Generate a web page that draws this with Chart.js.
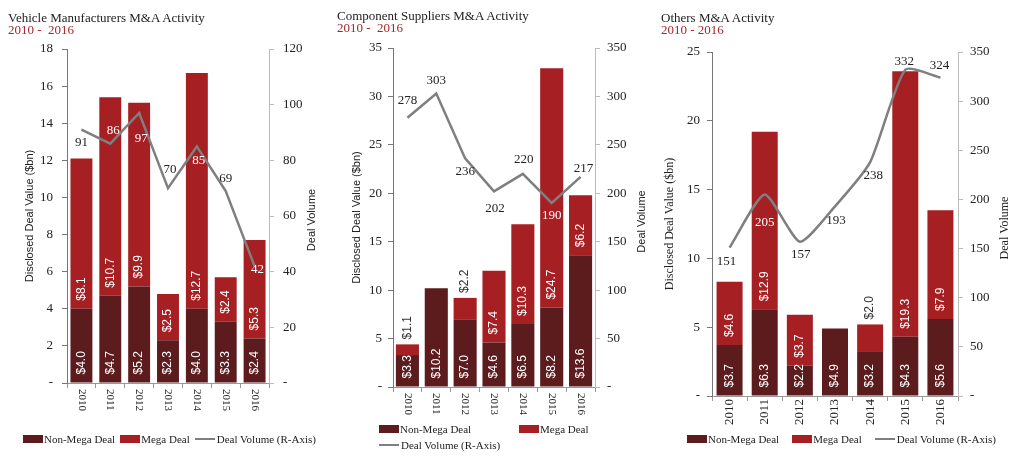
<!DOCTYPE html>
<html>
<head>
<meta charset="utf-8">
<script src="https://cdn.jsdelivr.net/npm/chart.js@4.4.0/dist/chart.umd.min.js"></script>
<style>
  body { margin: 0; background: #fff; width: 1024px; height: 461px; overflow: hidden; position: relative; font-family: "Liberation Serif", serif; }
  .panel { position: absolute; top: 0; height: 461px; }
  .panel canvas { position: absolute; left: 0; top: 0; }
  .ttl, .sub { position: absolute; font-size: 13px; line-height: 13px; white-space: pre; }
  .ttl { color: #222; }
  .sub { color: #a3262b; }
  .legend { position: absolute; font-size: 11px; color: #222; display: flex; align-items: center; white-space: pre; }
  .legend .item { display: flex; align-items: center; }
  .legend .box { width: 20px; height: 8px; margin-right: 1px; }
  .legend .ln { width: 20px; height: 2px; margin-right: 2px; }
  .legend.grid { display: grid; grid-template-columns: 140px 140px; row-gap: 4px; }
</style>
</head>
<body>

<div class="panel" id="p1" style="left:0;width:330px">
  <canvas id="c1" width="330" height="461"></canvas>
  <div class="ttl" style="left:8px;top:11px">Vehicle Manufacturers M&amp;A Activity</div>
  <div class="sub" style="left:8px;top:23px">2010 -  2016</div>
  <div class="legend" id="l1" style="left:23px;top:433px;gap:5px"></div>
</div>

<div class="panel" id="p2" style="left:330px;width:325px">
  <canvas id="c2" width="325" height="461"></canvas>
  <div class="ttl" style="left:7px;top:9px">Component Suppliers M&amp;A Activity</div>
  <div class="sub" style="left:7px;top:21px">2010 -  2016</div>
  <div class="legend grid" id="l2" style="left:49px;top:423px"></div>
</div>

<div class="panel" id="p3" style="left:655px;width:369px">
  <canvas id="c3" width="369" height="461"></canvas>
  <div class="ttl" style="left:6px;top:11px">Others M&amp;A Activity</div>
  <div class="sub" style="left:6px;top:23px">2010 - 2016</div>
  <div class="legend" id="l3" style="left:32px;top:433px;gap:13px"></div>
</div>

<script>
// Data
const years = ['2010', '2011', '2012', '2013', '2014', '2015', '2016'];

const vehicleNonMega = [4.0, 4.7, 5.2, 2.3, 4.0, 3.3, 2.4];
const vehicleMega = [8.1, 10.7, 9.9, 2.5, 12.7, 2.4, 5.3];
const vehicleVolume = [91, 86, 97, 70, 85, 69, 42];
const vehicleValueTicks = [0, 2, 4, 6, 8, 10, 12, 14, 16, 18];
const vehicleVolumeTicks = [0, 20, 40, 60, 80, 100, 120];

const componentNonMega = [3.3, 10.2, 7.0, 4.6, 6.5, 8.2, 13.6];
const componentMega = [1.1, 0, 2.2, 7.4, 10.3, 24.7, 6.2];
const componentVolume = [278, 303, 236, 202, 220, 190, 217];
const componentValueTicks = [0, 5, 10, 15, 20, 25, 30, 35];
const componentVolumeTicks = [0, 50, 100, 150, 200, 250, 300, 350];

const othersNonMega = [3.7, 6.3, 2.2, 4.9, 3.2, 4.3, 5.6];
const othersMega = [4.6, 12.9, 3.7, 0, 2.0, 19.3, 7.9];
const othersVolume = [151, 205, 157, 193, 238, 332, 324];
const othersValueTicks = [0, 5, 10, 15, 20, 25];
const othersVolumeTicks = [0, 50, 100, 150, 200, 250, 300, 350];

// label placement (pixel shift from the line point) and colour flags
const vehicleVolumeShift = [[0, 13], [3, -13], [2, 26], [2, -19], [2, 14], [0, -12], [3, 3]];
const vehicleVolumeWhite = [false, true, true, false, true, false, true];
const vehicleMegaOutside = [false, false, false, false, false, false, false];

const componentVolumeShift = [[0, -17], [0, -13], [0, 13], [1, 17], [1, -14], [0, 13], [3, -8]];
const componentVolumeWhite = [false, false, false, false, false, true, false];
const componentMegaOutside = [true, false, true, false, false, false, false];

const othersVolumeShift = [[-3, 14], [0, 28], [1, 13], [1, 14], [3, 13], [-1, -8], [-1, -12]];
const othersVolumeWhite = [false, true, false, false, false, false, false];
const othersMegaOutside = [false, false, false, false, true, false, false];

// Colours
const DARK = '#5c1c1e';
const RED = '#a51f23';
const GRAY = '#7f7f7f';
const SERIF = '"Liberation Serif", "Times New Roman", serif';
const SANS = '"Liberation Sans", Arial, sans-serif';

// Draws the $ labels inside the bars and the deal volume numbers
const dealLabels = {
    id: 'dealLabels',
    afterDatasetsDraw(chart) {
        const cfg = chart.options.plugins.dealLabels;
        const ctx = chart.ctx;

        [0, 1].forEach(di => {
            const values = chart.data.datasets[di].data;
            chart.getDatasetMeta(di).data.forEach((bar, i) => {
                const v = values[i];
                if (!v) return;
                const outside = di === 1 && cfg.outside[i];
                ctx.save();
                ctx.font = '12px ' + SANS;
                ctx.fillStyle = outside ? '#333' : '#fff';
                ctx.textAlign = 'left';
                ctx.textBaseline = 'middle';
                ctx.translate(bar.x, outside ? bar.y - 5 : bar.base - 8);
                ctx.rotate(-Math.PI / 2);
                ctx.fillText('$' + v.toFixed(1), 0, 0);
                ctx.restore();
            });
        });

        const volume = chart.data.datasets[2].data;
        ctx.save();
        ctx.font = '13px ' + SERIF;
        ctx.textAlign = 'center';
        ctx.textBaseline = 'middle';
        chart.getDatasetMeta(2).data.forEach((pt, i) => {
            const [dx, dy] = cfg.shift[i];
            ctx.fillStyle = cfg.white[i] ? '#fff' : '#222';
            ctx.fillText(String(volume[i]), pt.x + dx, pt.y + dy);
        });
        ctx.restore();
    }
};

// Year labels rotated as in each original, plus the right axis title (reads upward)
const axisText = {
    id: 'axisText',
    afterDraw(chart) {
        const cfg = chart.options.plugins.axisText;
        const xs = chart.scales.x;
        const ctx = chart.ctx;
        ctx.save();
        ctx.font = cfg.size + 'px ' + SERIF;
        ctx.fillStyle = '#222';
        ctx.textBaseline = 'middle';
        chart.data.labels.forEach((lab, i) => {
            ctx.save();
            ctx.translate(xs.getPixelForTick(i), xs.top + cfg.gap);
            if (cfg.dir > 0) {
                ctx.rotate(Math.PI / 2);
                ctx.textAlign = 'left';
            } else {
                ctx.rotate(-Math.PI / 2);
                ctx.textAlign = 'right';
            }
            ctx.fillText(lab, 0, 0);
            ctx.restore();
        });

        const area = chart.chartArea;
        ctx.font = cfg.titleSize + 'px ' + cfg.titleFont;
        ctx.textAlign = 'center';
        ctx.translate(chart.width - cfg.rightTitleX, (area.top + area.bottom) / 2 + 4);
        ctx.rotate(-Math.PI / 2);
        ctx.fillText('Deal Volume', 0, 0);
        ctx.restore();
    }
};

function buildChart(id, legendId, d) {
    const chart = new Chart(document.getElementById(id), {
        data: {
            labels: years,
            datasets: [
                { type: 'bar', label: 'Non-Mega Deal', data: d.nonMega, backgroundColor: DARK,
                  yAxisID: 'y', order: 1, barPercentage: d.barPct, categoryPercentage: 1 },
                { type: 'bar', label: 'Mega Deal', data: d.mega, backgroundColor: RED,
                  yAxisID: 'y', order: 1, barPercentage: d.barPct, categoryPercentage: 1 },
                { type: 'line', label: 'Deal Volume (R-Axis)', data: d.volume, borderColor: GRAY,
                  backgroundColor: GRAY, borderWidth: 2.5, pointRadius: 0, tension: d.tension,
                  yAxisID: 'y1', order: 0 }
            ]
        },
        options: {
            responsive: false,
            animation: false,
            layout: { padding: { top: d.top, bottom: d.bottom, left: 0, right: 0 } },
            plugins: {
                legend: { display: false },
                tooltip: { enabled: false },
                dealLabels: { shift: d.shift, white: d.white, outside: d.outside },
                axisText: { dir: d.yearDir, gap: d.yearGap, size: d.yearSize,
                            titleFont: d.titleFont, titleSize: d.titleSize, rightTitleX: d.rightTitleX }
            },
            scales: {
                x: {
                    stacked: true,
                    grid: { drawOnChartArea: false, tickLength: 5, color: '#999', offset: true },
                    border: { color: '#999' },
                    ticks: { display: false },
                    afterFit: s => { s.height = 30; }
                },
                y: {
                    stacked: true,
                    position: 'left',
                    min: d.valueTicks[0],
                    max: d.valueTicks[d.valueTicks.length - 1],
                    afterBuildTicks: s => { s.ticks = d.valueTicks.map(v => ({ value: v })); },
                    ticks: { callback: v => v === 0 ? '-' : v, font: { family: SERIF, size: 13 },
                             color: '#222', padding: d.leftPad },
                    grid: { drawOnChartArea: false, tickLength: 5, color: '#777' },
                    border: { color: '#777' },
                    title: { display: true, text: 'Disclosed Deal Value ($bn)', color: '#222',
                             font: { family: d.titleFont, size: d.titleSize },
                             padding: { top: d.leftTitlePad, bottom: 0 } },
                    afterFit: s => { s.width = d.leftW; }
                },
                y1: {
                    position: 'right',
                    min: d.volumeTicks[0],
                    max: d.volumeTicks[d.volumeTicks.length - 1],
                    afterBuildTicks: s => { s.ticks = d.volumeTicks.map(v => ({ value: v })); },
                    ticks: { callback: v => v === 0 ? '-' : v, font: { family: SERIF, size: 13 },
                             color: '#222', padding: d.rightPad },
                    grid: { drawOnChartArea: false, tickLength: 5, color: '#bbb' },
                    border: { color: '#bbb' },
                    afterFit: s => { s.width = d.rightW; }
                }
            }
        },
        plugins: [dealLabels, axisText]
    });

    // legend from the chart's own datasets
    const legend = document.getElementById(legendId);
    legend.innerHTML = chart.data.datasets.map(ds => {
        const sw = ds.type === 'line'
            ? `<span class="ln" style="background:${ds.borderColor}"></span>`
            : `<span class="box" style="background:${ds.backgroundColor}"></span>`;
        return `<span class="item">${sw}${ds.label}</span>`;
    }).join('');
    return chart;
}

buildChart('c1', 'l1', {
    nonMega: vehicleNonMega, mega: vehicleMega, volume: vehicleVolume,
    valueTicks: vehicleValueTicks, volumeTicks: vehicleVolumeTicks,
    shift: vehicleVolumeShift, white: vehicleVolumeWhite, outside: vehicleMegaOutside,
    barPct: 0.76, tension: 0, top: 49, bottom: 48,
    leftW: 67, rightW: 61, leftPad: 9, rightPad: 9,
    leftTitlePad: 23, rightTitleX: 18, titleFont: SANS, titleSize: 11,
    yearDir: 1, yearGap: 6, yearSize: 11
});

buildChart('c2', 'l2', {
    nonMega: componentNonMega, mega: componentMega, volume: componentVolume,
    valueTicks: componentValueTicks, volumeTicks: componentVolumeTicks,
    shift: componentVolumeShift, white: componentVolumeWhite, outside: componentMegaOutside,
    barPct: 0.8, tension: 0, top: 48, bottom: 44,
    leftW: 63, rightW: 60, leftPad: 6, rightPad: 7,
    leftTitlePad: 20, rightTitleX: 13, titleFont: SANS, titleSize: 11,
    yearDir: 1, yearGap: 6, yearSize: 11
});

buildChart('c3', 'l3', {
    nonMega: othersNonMega, mega: othersMega, volume: othersVolume,
    valueTicks: othersValueTicks, volumeTicks: othersVolumeTicks,
    shift: othersVolumeShift, white: othersVolumeWhite, outside: othersMegaOutside,
    barPct: 0.74, tension: 0.2, top: 52, bottom: 35,
    leftW: 57, rightW: 66, leftPad: 7, rightPad: 7,
    leftTitlePad: 8, rightTitleX: 19, titleFont: SERIF, titleSize: 12,
    yearDir: -1, yearGap: 3, yearSize: 13
});
</script>
</body>
</html>
